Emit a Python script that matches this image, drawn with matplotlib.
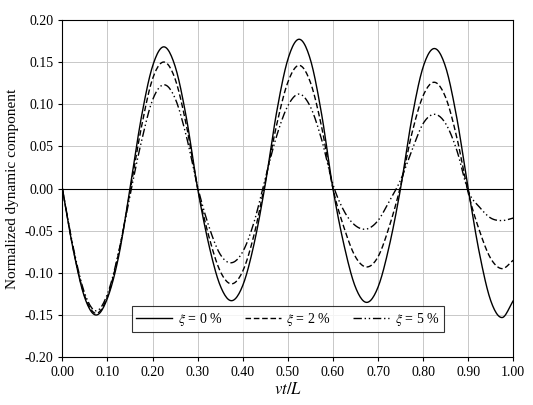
import numpy as np
import matplotlib
matplotlib.use('Agg')
import matplotlib.pyplot as plt
import matplotlib.ticker as ticker

plt.rcParams['font.family'] = 'Liberation Serif'
plt.rcParams['mathtext.fontset'] = 'stix'

x = np.linspace(0, 1, 41)
y_0 = [0, -0.075, -0.13, -0.15, -0.13, -0.08, 0.0, 0.084, 0.145, 0.168, 0.145, 0.084, 0.0,
       -0.067, -0.115, -0.133, -0.115, -0.066, 0.005, 0.09, 0.153, 0.177, 0.153, 0.088, 0.0,
       -0.068, -0.117, -0.135, -0.117, -0.068, 0.0, 0.083, 0.144, 0.166, 0.144, 0.083, 0.0,
       -0.077, -0.133, -0.153, -0.133]
y_2 = [0, -0.074, -0.128, -0.148, -0.128, -0.076, -0.004, 0.072, 0.13, 0.15, 0.13, 0.075, 0.0,
       -0.057, -0.098, -0.113, -0.098, -0.055, 0.008, 0.075, 0.126, 0.146, 0.126, 0.073, 0.0,
       -0.047, -0.081, -0.093, -0.081, -0.045, 0.003, 0.065, 0.11, 0.126, 0.108, 0.06, -0.005,
       -0.05, -0.083, -0.095, -0.085]
y_5 = [0, -0.072, -0.125, -0.145, -0.125, -0.075, -0.008, 0.055, 0.105, 0.123, 0.107, 0.062, 0.002,
       -0.045, -0.078, -0.088, -0.075, -0.04, 0.012, 0.062, 0.098, 0.112, 0.097, 0.058, 0.005,
       -0.027, -0.044, -0.048, -0.038, -0.015, 0.01, 0.045, 0.077, 0.088, 0.077, 0.045, -0.003,
       -0.022, -0.035, -0.038, -0.035]
etiquetas = [r'$\xi$ = 0 %', r'$\xi$ = 2 %', r'$\xi$ = 5 %']


def suavizar(xs, ys, n=12):
    # Catmull-Rom entre los puntos leidos, solo para dibujar la curva suave
    xs = np.asarray(xs, float); ys = np.asarray(ys, float)
    px = np.concatenate([[2*xs[0]-xs[1]], xs, [2*xs[-1]-xs[-2]]])
    py = np.concatenate([[2*ys[0]-ys[1]], ys, [2*ys[-1]-ys[-2]]])
    t = np.linspace(0, 1, n, endpoint=False)[:, None]
    res = []
    for p in (px, py):
        p0, p1, p2, p3 = p[:-3], p[1:-2], p[2:-1], p[3:]
        seg = 0.5*((2*p1) + (-p0+p2)*t + (2*p0-5*p1+4*p2-p3)*t**2 + (-p0+3*p1-3*p2+p3)*t**3)
        res.append(np.append(seg.T.ravel(), p[-2]))
    return res[0], res[1]


fmt = ticker.FuncFormatter(lambda v, pos: '%.2f' % (0.0 if abs(v) < 1e-9 else v))

fig = plt.figure(figsize=(5.33, 4.05), dpi=100)
ax = fig.add_axes([0.117, 0.118, 0.846, 0.833])
estilos = ['-', (0, (4, 2)), (0, (6, 2, 1, 2, 1, 2))]
for ys, ls, lab in zip([y_0, y_2, y_5], estilos, etiquetas):
    xx, yy = suavizar(x, ys)
    ax.plot(xx, yy, color='black', lw=1.0, linestyle=ls, label=lab)
ax.axhline(0, color='black', lw=0.8)
ax.set_xlim(0, 1)
ax.set_ylim(-0.2, 0.2)
ax.set_xticks(np.arange(0, 1.01, 0.1))
ax.set_yticks(np.arange(-0.2, 0.201, 0.05))
ax.xaxis.set_major_formatter(fmt)
ax.yaxis.set_major_formatter(fmt)
ax.grid(True, color='#c8c8c8', lw=0.7)
ax.set_axisbelow(True)
ax.tick_params(labelsize=10, direction='out', length=3)
ax.set_xlabel(r'$vt/L$', fontsize=12, labelpad=2)
ax.set_ylabel('Normalized dynamic component', fontsize=11)
leg = ax.legend(loc='lower center', bbox_to_anchor=(0.5, 0.055), ncol=3, fontsize=10,
                frameon=True, fancybox=False, edgecolor='black', handlelength=2.6,
                columnspacing=1.6, borderpad=0.3, handletextpad=0.4)
leg.get_frame().set_linewidth(0.8)
fig.savefig('out.png', dpi=100)
